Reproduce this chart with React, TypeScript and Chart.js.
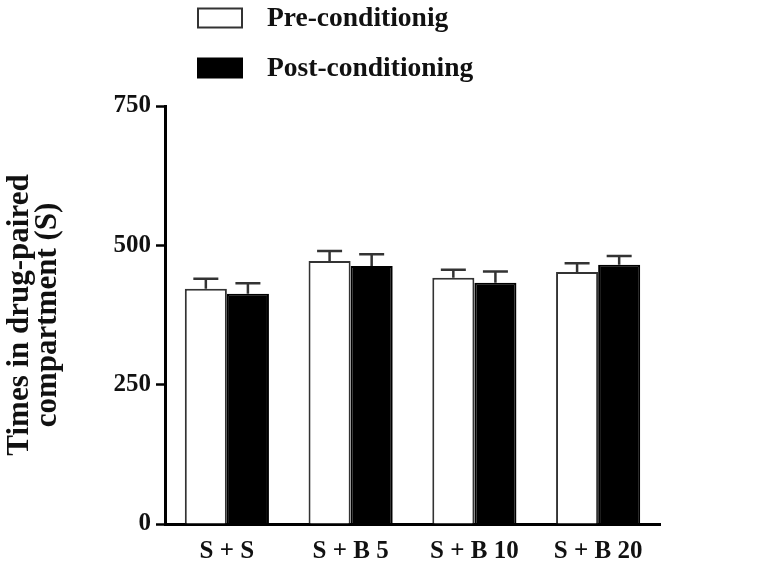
import React, { useEffect, useRef } from 'react';
import { Chart, registerables } from 'chart.js';

Chart.register(...registerables);

const categories = ['S + S', 'S + B 5', 'S + B 10', 'S + B 20'];
const seriesLabels = ['Pre-conditionig', 'Post-conditioning'];
const preValues = [422, 472, 442, 452];
const preErrors = [18, 18, 14, 16];
const postValues = [413, 463, 433, 465];
const postErrors = [19, 21, 20, 16];
const yTicks = [0, 250, 500, 750];
const yTitle = ['Times in drug-paired', 'compartment (S)'];

const FONT = '"Liberation Serif", "Times New Roman", serif';

const errorBarPlugin = {
  id: 'errorBars',
  afterDatasetsDraw(chart: any) {
    const ctx = chart.ctx;
    const yScale = chart.scales.y;
    chart.data.datasets.forEach((ds: any, di: number) => {
      const meta = chart.getDatasetMeta(di);
      const errs = ds.errors as number[];
      meta.data.forEach((bar: any, i: number) => {
        const v = ds.data[i];
        const yTop = yScale.getPixelForValue(v + errs[i]);
        const yBase = yScale.getPixelForValue(v);
        ctx.save();
        ctx.strokeStyle = '#333';
        ctx.lineWidth = 2.5;
        ctx.beginPath();
        ctx.moveTo(bar.x, yBase);
        ctx.lineTo(bar.x, yTop);
        ctx.moveTo(bar.x - 12.5, yTop);
        ctx.lineTo(bar.x + 12.5, yTop);
        ctx.stroke();
        ctx.restore();
      });
    });
  },
};

const legendPlugin = {
  id: 'customLegend',
  afterDraw(chart: any) {
    const ctx = chart.ctx;
    const rows = [18, 68];
    ctx.save();
    chart.data.datasets.forEach((ds: any, di: number) => {
      const cy = rows[di];
      ctx.fillStyle = ds.backgroundColor;
      ctx.fillRect(198, cy - 9.5, 44, 19);
      ctx.strokeStyle = ds.borderColor;
      ctx.lineWidth = 2;
      ctx.strokeRect(198, cy - 9.5, 44, 19);
      ctx.fillStyle = '#111';
      ctx.font = `bold 27.5px ${FONT}`;
      ctx.textBaseline = 'middle';
      ctx.textAlign = 'left';
      ctx.fillText(ds.label, 267, cy + 1);
    });
    ctx.restore();
  },
};

export default function App() {
  const canvasRef = useRef<HTMLCanvasElement | null>(null);

  useEffect(() => {
    if (!canvasRef.current) return;
    const chart = new Chart(canvasRef.current, {
      type: 'bar',
      data: {
        labels: categories,
        datasets: [
          {
            label: seriesLabels[0],
            data: preValues,
            errors: preErrors,
            backgroundColor: '#ffffff',
            borderColor: '#333333',
            borderWidth: 2,
            categoryPercentage: 0.68,
            barPercentage: 1.0,
          } as any,
          {
            label: seriesLabels[1],
            data: postValues,
            errors: postErrors,
            backgroundColor: '#000000',
            borderColor: '#000000',
            borderWidth: 2,
            categoryPercentage: 0.68,
            barPercentage: 1.0,
          } as any,
        ],
      },
      options: {
        animation: false,
        responsive: false,
        layout: { padding: { top: 106, right: 108, bottom: 0, left: 0 } },
        plugins: {
          legend: { display: false },
          tooltip: { enabled: false },
        },
        scales: {
          x: {
            grid: { display: false, drawTicks: false },
            border: { display: true, color: '#000', width: 3 },
            ticks: {
              color: '#111',
              padding: 13,
              font: { family: FONT, size: 25, weight: 'bold' },
            },
            afterFit(scale: any) {
              scale.height = 50;
            },
          },
          y: {
            min: 0,
            max: 750,
            afterBuildTicks(scale: any) {
              scale.ticks = yTicks.map((v) => ({ value: v }));
            },
            grid: {
              drawOnChartArea: false,
              drawTicks: true,
              tickLength: 9,
              tickWidth: 2.5,
              tickColor: '#000',
            },
            border: { display: true, color: '#000', width: 3 },
            ticks: {
              color: '#111',
              padding: 5,
              font: { family: FONT, size: 25, weight: 'bold' },
            },
            title: {
              display: true,
              text: yTitle,
              color: '#111',
              padding: { top: 6, bottom: 0 },
              font: { family: FONT, size: 31, weight: 'bold', lineHeight: 0.9 },
            },
            afterFit(scale: any) {
              scale.width = 165;
            },
          },
        },
      },
      plugins: [errorBarPlugin, legendPlugin],
    } as any);
    return () => chart.destroy();
  }, []);

  return (
    <div style={{ position: 'absolute', left: 0, top: 0, width: 768, height: 574, background: '#fff' }}>
      <canvas ref={canvasRef} width={768} height={574} />
    </div>
  );
}
